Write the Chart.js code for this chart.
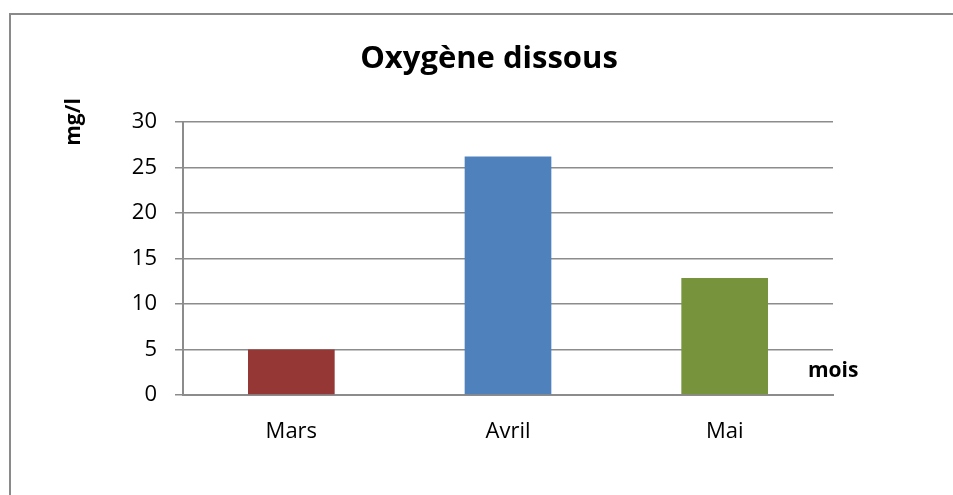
<!DOCTYPE html>
<html>
<head>
<meta charset="utf-8">
<script src="https://cdn.jsdelivr.net/npm/chart.js@4.4.1/dist/chart.umd.min.js"></script>
<style>
  html, body { margin: 0; padding: 0; background: #fff; overflow: hidden; }
  #wrap { position: relative; width: 953px; height: 495px; }
  #frame { position: absolute; left: 9px; top: 13px; width: 960px; height: 500px;
           border-left: 2px solid #8a8a8a; border-top: 2px solid #8a8a8a; }
  canvas { position: absolute; left: 0; top: 0; }
</style>
</head>
<body>
<div id="wrap">
  <div id="frame"></div>
  <canvas id="chart" width="953" height="495"></canvas>
</div>
<script>
// données
var mois = ['Mars', 'Avril', 'Mai'];
var oxygene = [5.0, 26.2, 12.85];
var couleurs = ['#953735', '#4f81bd', '#77933c'];

var titre = 'Oxygène dissous';
var titreY = 'mg/l';
var titreX = 'mois';

var GRIS = '#8c8c8c';
var FONT = '"Open Sans", "DejaVu Sans", sans-serif';

// titres dessinés à la main, comme dans l'original Excel
var textes = {
  id: 'textes',
  afterDraw: function(chart) {
    var ctx = chart.ctx;
    ctx.save();
    ctx.fillStyle = '#000';
    ctx.font = 'bold 31px ' + FONT;
    ctx.textAlign = 'center';
    ctx.textBaseline = 'alphabetic';
    ctx.fillText(titre, 489, 68);

    ctx.font = 'bold 21px ' + FONT;
    ctx.textAlign = 'left';
    ctx.fillText(titreX, 808, 377);

    ctx.translate(80, 122);
    ctx.rotate(-Math.PI / 2);
    ctx.textAlign = 'center';
    ctx.fillText(titreY, 0, 0);
    ctx.restore();
  }
};

new Chart(document.getElementById('chart'), {
  type: 'bar',
  data: {
    labels: mois,
    datasets: [{
      label: titre,
      data: oxygene,
      backgroundColor: couleurs,
      borderWidth: 0,
      barPercentage: 0.4,
      categoryPercentage: 1.0
    }]
  },
  options: {
    responsive: false,
    animation: false,
    layout: { padding: { left: 0, top: 122, right: 120, bottom: 0 } },
    plugins: {
      legend: { display: false },
      tooltip: { enabled: false }
    },
    scales: {
      x: {
        afterFit: function(s) { s.height = 100; },
        grid: { display: false, drawTicks: false },
        border: { color: GRIS, width: 2 },
        ticks: { color: '#000', font: { family: FONT, size: 22 }, padding: 24 }
      },
      y: {
        min: 0,
        max: 30,
        afterFit: function(s) { s.width = 183; },
        grid: { color: GRIS, lineWidth: 1.5, tickLength: 8 },
        border: { color: GRIS, width: 2 },
        ticks: { stepSize: 5, color: '#000', font: { family: FONT, size: 22 }, padding: 18 }
      }
    }
  },
  plugins: [textes]
});
</script>
</body>
</html>
